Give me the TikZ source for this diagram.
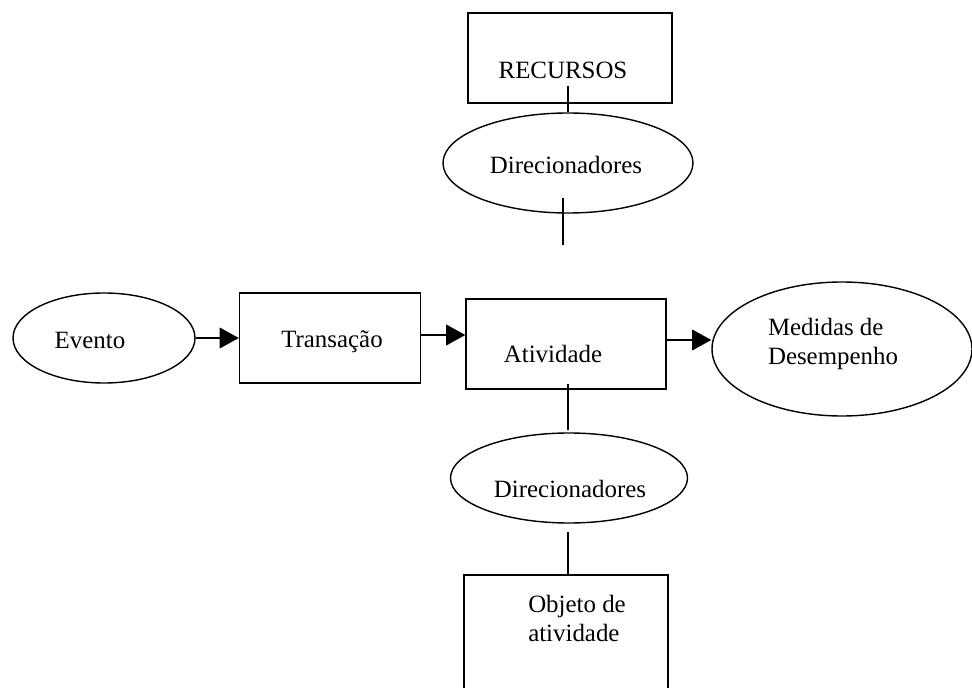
\documentclass[tikz,border=0pt]{standalone}
\usepackage{fontspec}
\setmainfont{Liberation Serif}
\usetikzlibrary{shapes.geometric,arrows.meta}

\def\px{0.025cm}

\begin{document}
\begin{tikzpicture}[x=\px,y=-\px,line width=1pt,draw=black,
    font=\fontsize{17.7pt}{20.6pt}\selectfont]
    \tikzstyle{box}=[rectangle, draw, inner sep=0pt]
    \tikzstyle{oval}=[ellipse, draw, inner sep=0pt]
    \tikzstyle{arrow}=[-{Triangle[length=0.48cm,width=0.52cm]}]
    \tikzstyle{txt}=[align=left, inner sep=0pt]

    \useasboundingbox (0,0) rectangle (972,688);
    \clip (0,0) rectangle (972,688);

    % Draw the top part
    \node[box, minimum width=204*\px, minimum height=90*\px] (rec) at (570,58) {};
    \node[txt] (rec-t) at (563,70) {RECURSOS};
    \node[oval, minimum width=250*\px, minimum height=100*\px] (dir1) at (568,163) {};
    \node[txt] (dir1-t) at (566,165) {Direcionadores};

    % Draw the middle row
    \node[oval, minimum width=182*\px, minimum height=90*\px] (ev) at (104,338) {};
    \node[txt] (ev-t) at (90,340) {Evento};
    \node[box, minimum width=181*\px, minimum height=90*\px] (tr) at (330,338) {};
    \node[txt] (tr-t) at (332,342) {Transação};
    \node[box, minimum width=200*\px, minimum height=90*\px] (at) at (566,344) {};
    \node[txt] (at-t) at (553,354) {Atividade};
    \node[oval, minimum width=260*\px, minimum height=134*\px] (md) at (842,349) {};
    \node[txt] (md-t) at (833,344) {Medidas de\\Desempenho};

    % Draw the bottom part
    \node[oval, minimum width=237*\px, minimum height=90*\px] (dir2) at (569,478) {};
    \node[txt] (dir2-t) at (570,489) {Direcionadores};
    \node[box, minimum width=204*\px, minimum height=130*\px] (obj) at (566,640) {};
    \node[txt] (obj-t) at (577,618) {Objeto de\\atividade};

    % Free ends of the lines
    \coordinate (r1) at (568,86);
    \coordinate (d1) at (563,198);
    \coordinate (d2) at (563,245);
    \coordinate (a1) at (568,384);
    \coordinate (a2) at (568,430);
    \coordinate (o1) at (568,532);

    % Connect the nodes
    \draw (r1) -- (r1 |- dir1.north);
    \draw (d1) -- (d2);
    \draw[arrow] (ev) -- (tr);
    \draw[arrow] ([yshift=3*\px]tr.east) -- ([yshift=3*\px]tr.east -| at.west);
    \draw[arrow] ([yshift=4*\px]at.east) -- ([yshift=4*\px]at.east -| md.west);
    \draw (a1) -- (a2);
    \draw (o1) -- (o1 |- obj.north);
\end{tikzpicture}
\end{document}
